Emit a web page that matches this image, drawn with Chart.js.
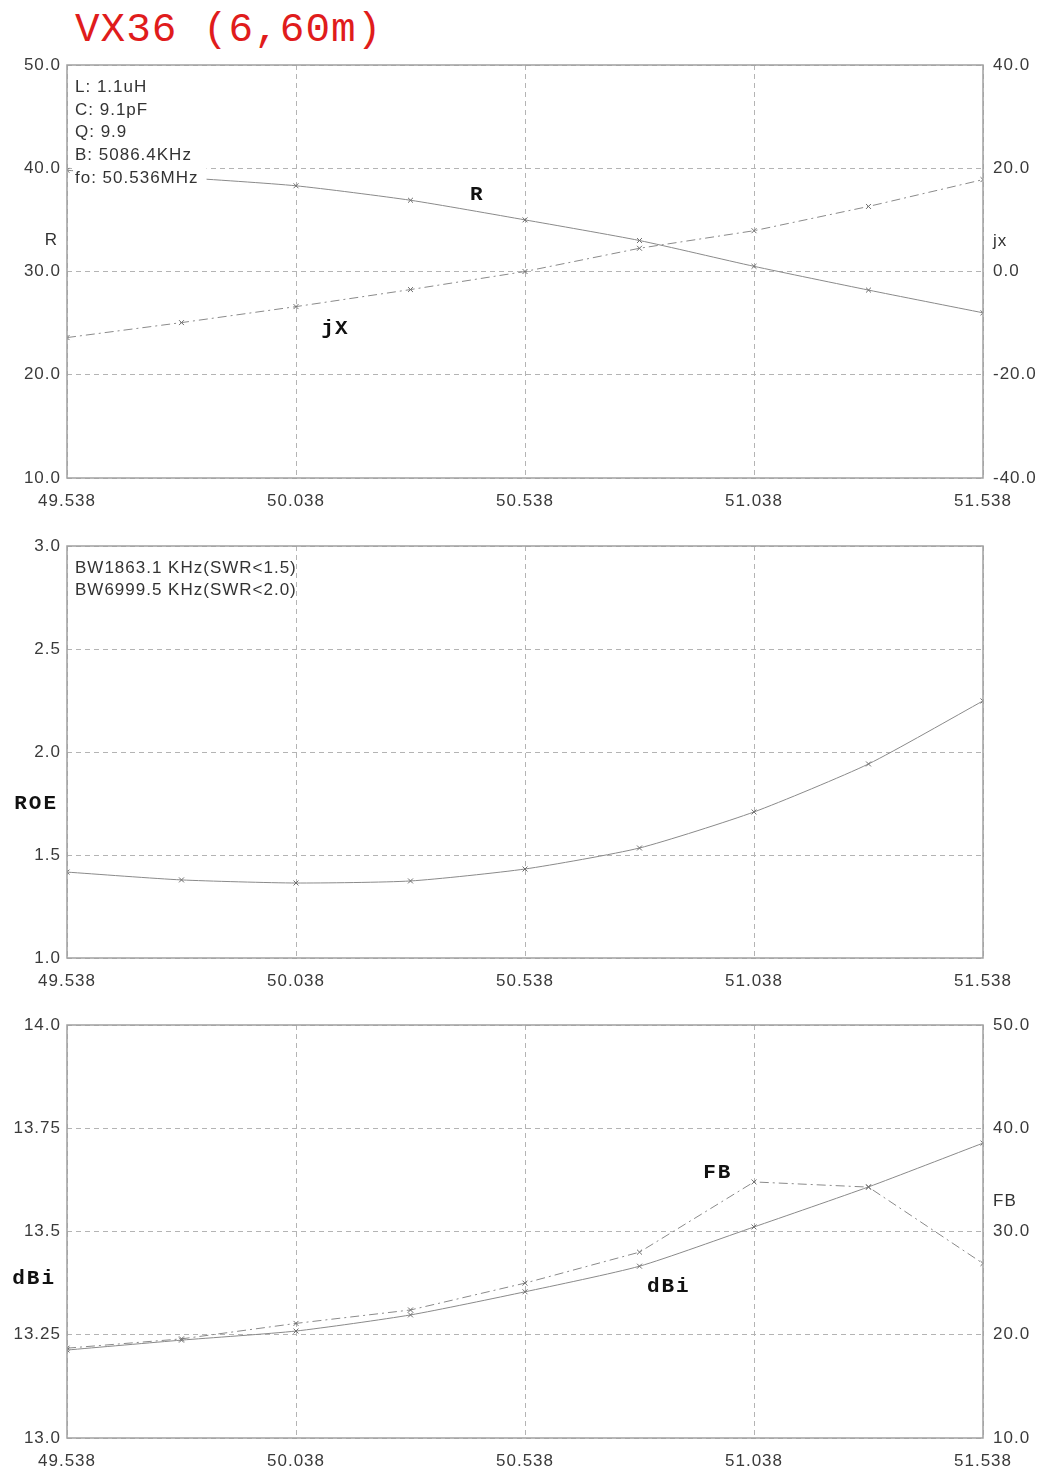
<!DOCTYPE html>
<html>
<head>
<meta charset="utf-8">
<script src="https://cdn.jsdelivr.net/npm/chart.js@4/dist/chart.umd.min.js"></script>
<style>
    body { margin: 0; background: #fff; width: 1042px; height: 1470px; position: relative; overflow: hidden; }
    canvas { position: absolute; left: 0; }
    #title { position: absolute; left: 75px; top: 7px; font-family: "Liberation Mono", monospace; font-size: 41px; color: #e01c1c; letter-spacing: 1px; }
</style>
</head>
<body>
<div id="title">VX36 (6,60m)</div>
<canvas id="zChart" style="top:0px"></canvas>
<canvas id="swrChart" style="top:520px"></canvas>
<canvas id="gainChart" style="top:1000px"></canvas>
<script>
// data (MHz)
const freqs = [49.538, 49.788, 50.038, 50.288, 50.538, 50.788, 51.038, 51.288, 51.538];
const xTicks = [49.538, 50.038, 50.538, 51.038, 51.538];

const rValues = [39.8, 39.1, 38.3, 36.9, 35.0, 33.0, 30.5, 28.2, 26.0];
const jxValues = [-12.8, -9.9, -6.8, -3.5, 0.0, 4.5, 7.9, 12.6, 17.8];
const rTicks = [10, 20, 30, 40, 50];
const jxTicks = [-40, -20, 0, 20, 40];

const swrValues = [1.417, 1.379, 1.364, 1.374, 1.432, 1.534, 1.709, 1.942, 2.248];
const swrTicks = [1.0, 1.5, 2.0, 2.5, 3.0];

const gainValues = [13.213, 13.237, 13.259, 13.298, 13.354, 13.416, 13.511, 13.608, 13.714];
const fbValues = [18.7, 19.6, 21.1, 22.4, 25.0, 28.0, 34.8, 34.3, 26.9];
const gainTicks = [13.0, 13.25, 13.5, 13.75, 14.0];
const fbTicks = [10, 20, 30, 40, 50];

const tickFont = { family: "Arial, 'Liberation Sans', sans-serif", size: 17 };
const tickColor = '#3a3a3a';
const gridColor = '#b4b4b4';
const lineColor = '#8a8a8a';

function pts(ys) {
    return freqs.map((f, i) => ({ x: f, y: ys[i] }));
}

function fixedTicks(list) {
    return (axis) => { axis.ticks = list.map(v => ({ value: v })); };
}

// 13.0, 13.25, 13.5 ... keep at least one decimal
function fmt(v) {
    let s = String(+v.toFixed(3));
    return s.indexOf('.') < 0 ? v.toFixed(1) : s;
}

function xScale(height) {
    return {
        type: 'linear',
        min: freqs[0], max: freqs[freqs.length - 1],
        afterBuildTicks: fixedTicks(xTicks),
        afterFit: (s) => { s.height = height; },
        ticks: { font: tickFont, color: tickColor, padding: 13, callback: v => v.toFixed(3), autoSkip: false, maxRotation: 0 },
        grid: { color: gridColor, drawTicks: false },
        border: { display: false, dash: [5, 4] }
    };
}

function yScale(pos, list, grid, width) {
    return {
        type: 'linear', position: pos,
        min: list[0], max: list[list.length - 1],
        afterBuildTicks: fixedTicks(list),
        afterFit: (s) => { s.width = width; },
        ticks: { font: tickFont, color: tickColor, padding: pos === 'left' ? 6 : 10, callback: fmt },
        grid: { display: grid, color: gridColor, drawTicks: false },
        border: { display: false, dash: [5, 4] }
    };
}

function series(ys, axis, dash, tension) {
    return {
        data: pts(ys), yAxisID: axis,
        borderColor: lineColor, borderWidth: 1, borderDash: dash || [],
        pointStyle: 'crossRot', pointRadius: 3.5, pointBorderColor: '#6f6f6f', pointBorderWidth: 1,
        tension: tension, fill: false
    };
}

// frame around the plot area + free texts (in data units of the axes)
const decor = {
    id: 'decor',
    beforeDraw(chart) {
        chart.ctx.letterSpacing = '1px';
    },
    afterDraw(chart, args, opts) {
        const ctx = chart.ctx, a = chart.chartArea;
        ctx.save();
        (opts.texts || []).forEach(t => {
            const sy = chart.scales[t.axis || 'y'];
            const px = t.px !== undefined ? t.px : chart.scales.x.getPixelForValue(t.x);
            const py = t.py !== undefined ? a.top + t.py : sy.getPixelForValue(t.y);
            ctx.font = t.font;
            ctx.letterSpacing = t.spacing || '1px';
            ctx.textAlign = t.align || 'left';
            ctx.textBaseline = 'middle';
            if (t.bg) {
                // info box hides the curves behind it
                ctx.fillStyle = '#fff';
                ctx.fillRect(px - 2, py - 12, ctx.measureText(t.text).width + 10, 24);
            }
            ctx.fillStyle = t.color || '#111';
            ctx.fillText(t.text, px, py);
        });
        ctx.strokeStyle = '#a0a0a0';
        ctx.lineWidth = 1.5;
        ctx.strokeRect(a.left, a.top, a.right - a.left, a.bottom - a.top);
        ctx.restore();
    }
};

const sans = "17px Arial, 'Liberation Sans', sans-serif";
const bold = "bold 21px 'Liberation Mono', 'Courier New', monospace";

function makeChart(id, height, padTop, xHeight, padRight, datasets, scales, texts) {
    const cv = document.getElementById(id);
    cv.width = 1042; cv.height = height;
    cv.style.width = '1042px'; cv.style.height = height + 'px';
    return new Chart(cv, {
        type: 'line',
        data: { datasets },
        options: {
            responsive: false, animation: false,
            layout: { padding: { top: padTop, bottom: 0, left: 0, right: padRight } },
            plugins: { legend: { display: false }, tooltip: { enabled: false }, decor: { texts } },
            scales
        },
        plugins: [decor]
    });
}

// R / jX
makeChart('zChart', 520, 65, 42, 0,
    [series(rValues, 'y', [], 0.2), series(jxValues, 'y2', [9, 4, 2, 4], 0)],
    { x: xScale(42), y: yScale('left', rTicks, true, 67), y2: yScale('right', jxTicks, false, 59) },
    [
        { text: 'L: 1.1uH', px: 75, py: 22, font: sans, color: '#333', bg: true },
        { text: 'C: 9.1pF', px: 75, py: 45, font: sans, color: '#333', bg: true },
        { text: 'Q: 9.9', px: 75, py: 67, font: sans, color: '#333', bg: true },
        { text: 'B: 5086.4KHz', px: 75, py: 90, font: sans, color: '#333', bg: true },
        { text: 'fo: 50.536MHz', px: 75, py: 113, font: sans, color: '#333', bg: true },
        { text: 'R', px: 58, y: 33, font: sans, color: '#333', align: 'right' },
        { text: 'jx', px: 993, y: 32.9, font: sans, color: '#333' },
        { text: 'R', x: 50.433, y: 37.4, font: bold, align: 'center' },
        { text: 'jX', x: 50.123, y: 24.5, font: bold, align: 'center' }
    ]);

// SWR
makeChart('swrChart', 480, 26, 42, 59,
    [series(swrValues, 'y', [], 0.2)],
    { x: xScale(42), y: yScale('left', swrTicks, true, 67) },
    [
        { text: 'BW1863.1 KHz(SWR<1.5)', px: 75, py: 22, font: sans, color: '#333' },
        { text: 'BW6999.5 KHz(SWR<2.0)', px: 75, py: 44, font: sans, color: '#333' },
        { text: 'ROE', px: 58, y: 1.748, font: bold, align: 'right', spacing: '2px' }
    ]);

// gain / FB
makeChart('gainChart', 470, 25, 32, 0,
    [series(gainValues, 'y', [], 0.2), series(fbValues, 'y2', [9, 4, 2, 4], 0)],
    { x: xScale(32), y: yScale('left', gainTicks, true, 67), y2: yScale('right', fbTicks, false, 59) },
    [
        { text: 'dBi', px: 56, y: 13.385, font: bold, align: 'right', spacing: '2px' },
        { text: 'FB', px: 993, y: 32.9, axis: 'y2', font: sans, color: '#333' },
        { text: 'FB', x: 50.959, y: 35.7, axis: 'y2', font: bold, align: 'center', spacing: '2px' },
        { text: 'dBi', x: 50.852, y: 13.366, font: bold, align: 'center', spacing: '2px' }
    ]);
</script>
</body>
</html>
